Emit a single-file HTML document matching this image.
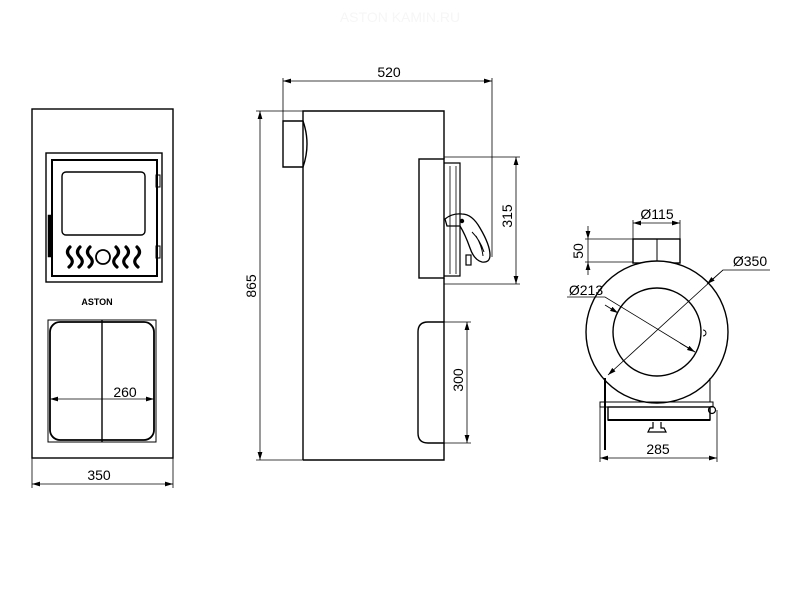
<!DOCTYPE html>
<html><head><style>html,body{margin:0;padding:0;background:#fff;width:800px;height:600px;overflow:hidden}</style></head>
<body>
<svg width="800" height="600" viewBox="0 0 800 600" xmlns="http://www.w3.org/2000/svg" font-family="Liberation Sans, sans-serif" font-size="14" fill="none" stroke="#000">
<defs>
<marker id="a" viewBox="0 0 10 6" refX="10" refY="3" markerWidth="10" markerHeight="6" orient="auto-start-reverse"><path d="M0,0 L10,3 L0,6 z" fill="#000" stroke="none"/></marker>
</defs>
<text x="400" y="22" fill="#f6f6f6" stroke="none" text-anchor="middle" font-size="14">ASTON KAMIN.RU</text>
<!-- FRONT VIEW -->
<g stroke-width="1.4">
<rect x="32" y="109" width="141" height="349"/>
<rect x="46" y="153" width="116" height="129"/>
<rect x="52" y="160" width="105" height="116" stroke-width="2"/>
<rect x="62" y="172" width="83" height="63" rx="4"/>
<rect x="156" y="175" width="4" height="12" stroke-width="1"/>
<rect x="156" y="246" width="4" height="12" stroke-width="1"/>
<rect x="48" y="215" width="3" height="42" fill="#000" stroke-width="0.5"/>
<rect x="48" y="320" width="108" height="122" stroke-width="1"/>
<rect x="50" y="322" width="104" height="118" rx="10" stroke-width="1.8"/>
<line x1="102" y1="320" x2="102" y2="442"/>
</g>
<g stroke-width="3.2" stroke-linecap="round">
<path d="M70,247 q-5,5 0,10 q5,5 -1,10"/>
<path d="M80,247 q-5,5 0,10 q5,5 -1,10"/>
<path d="M90,247 q-5,5 0,10 q5,5 -1,10"/>
<path d="M116,247 q5,5 0,10 q-5,5 1,10"/>
<path d="M126,247 q5,5 0,10 q-5,5 1,10"/>
<path d="M137,247 q5,5 0,10 q-5,5 1,10"/>
</g>
<circle cx="103" cy="257" r="7" stroke-width="1.8"/>
<text x="97" y="305" fill="#000" stroke="none" font-size="9" font-weight="bold" text-anchor="middle">ASTON</text>
<g stroke-width="0.8">
<line x1="50" y1="399" x2="154" y2="399" marker-start="url(#a)" marker-end="url(#a)"/>
<line x1="32" y1="458" x2="32" y2="488"/><line x1="173" y1="458" x2="173" y2="488"/>
<line x1="32" y1="484" x2="173" y2="484" marker-start="url(#a)" marker-end="url(#a)"/>
</g>
<text x="125" y="397" fill="#000" stroke="none" text-anchor="middle">260</text>
<text x="99" y="480" fill="#000" stroke="none" text-anchor="middle">350</text>
<!-- SIDE VIEW -->
<g stroke-width="1.4">
<path d="M303,460 V111 H444 V159 M444,278 V322 M444,443 V460 H303"/>
<path d="M283,121 H303 Q311,144 303,167 H283 Z"/>
<rect x="419" y="159" width="25" height="119"/>
<path d="M444,163 H460 V276 H444" stroke-width="1.2"/>
<line x1="450" y1="166" x2="450" y2="274" stroke-width="0.8"/>
<line x1="456" y1="166" x2="456" y2="274" stroke-width="0.8"/>
<path d="M428,322 H444 V443 H428 Q418,443 418,433 V332 Q418,322 428,322 Z"/>
<path d="M445,219 Q452,213 462,214 Q472,214 480,228 Q490,245 490,255 Q490,263 482,262 Q474,260 470,248 Q465,234 460,226 L447,226 Z" stroke-width="1.3"/>
<path d="M472,232 Q480,240 484,252 M476,236 Q482,246 483,256" stroke-width="1"/>
<rect x="466" y="255" width="5" height="10" stroke-width="1.2"/>
<circle cx="462" cy="221" r="1.5" fill="#000"/>
</g>
<g stroke-width="0.8">
<line x1="283" y1="78" x2="283" y2="121"/><line x1="492" y1="78" x2="492" y2="257"/>
<line x1="283" y1="81" x2="492" y2="81" marker-start="url(#a)" marker-end="url(#a)"/>
<line x1="256" y1="111" x2="303" y2="111"/><line x1="256" y1="460" x2="303" y2="460"/>
<line x1="260" y1="111" x2="260" y2="460" marker-start="url(#a)" marker-end="url(#a)"/>
<line x1="444" y1="157" x2="520" y2="157"/><line x1="444" y1="284" x2="520" y2="284"/>
<line x1="516" y1="157" x2="516" y2="284" marker-start="url(#a)" marker-end="url(#a)"/>
<line x1="428" y1="322" x2="471" y2="322"/><line x1="428" y1="443" x2="471" y2="443"/>
<line x1="467" y1="322" x2="467" y2="443" marker-start="url(#a)" marker-end="url(#a)"/>
</g>
<text x="389" y="77" fill="#000" stroke="none" text-anchor="middle">520</text>
<text transform="translate(256,286) rotate(-90)" fill="#000" stroke="none" text-anchor="middle">865</text>
<text transform="translate(512,216) rotate(-90)" fill="#000" stroke="none" text-anchor="middle">315</text>
<text transform="translate(463,380) rotate(-90)" fill="#000" stroke="none" text-anchor="middle">300</text>
<!-- CIRCLE VIEW -->
<g stroke-width="1.4">
<rect x="633" y="239" width="47" height="24"/>
<line x1="657" y1="239" x2="657" y2="262" stroke-width="1"/>
<circle cx="657" cy="332" r="71" fill="#fff"/>
<circle cx="657" cy="332" r="44"/>
<path d="M703,330 a3,3 0 0 1 0,6" stroke-width="1"/>
<line x1="605" y1="378" x2="605" y2="450" stroke-width="2"/>
<line x1="710" y1="378" x2="710" y2="402" stroke-width="1"/>
<rect x="600" y="402" width="113" height="5" stroke-width="1"/>
<rect x="608" y="407" width="102" height="13" stroke-width="1.4"/>
<line x1="608" y1="420" x2="710" y2="420" stroke-width="2"/>
<circle cx="712" cy="410" r="3.5" stroke-width="1.2"/>
<path d="M653,422 V428 H650 L648,432 H666 L664,428 H661 V422" stroke-width="1.2"/>
</g>
<g stroke-width="0.8">
<line x1="633" y1="223" x2="680" y2="223" marker-start="url(#a)" marker-end="url(#a)"/>
<line x1="633" y1="220" x2="633" y2="239"/><line x1="680" y1="220" x2="680" y2="239"/>
<line x1="585" y1="239" x2="633" y2="239"/><line x1="585" y1="262" x2="633" y2="262"/>
<line x1="588" y1="226" x2="588" y2="239" marker-end="url(#a)"/>
<line x1="588" y1="275" x2="588" y2="262" marker-end="url(#a)"/>
<line x1="588" y1="239" x2="588" y2="262"/>
<path d="M608,375 L723,270 H770" marker-start="url(#a)"/>
<line x1="707" y1="284" x2="723" y2="270" marker-start="url(#a)"/>
<path d="M567,297 H605 L695,352" />
<line x1="618" y1="313" x2="605" y2="305" marker-start="url(#a)"/>
<line x1="695" y1="352" x2="680" y2="343" marker-start="url(#a)"/>
<line x1="600" y1="402" x2="600" y2="462"/><line x1="717" y1="410" x2="717" y2="462"/>
<line x1="600" y1="458" x2="717" y2="458" marker-start="url(#a)" marker-end="url(#a)"/>
</g>
<text x="657" y="219" fill="#000" stroke="none" text-anchor="middle">Ø115</text>
<text transform="translate(583,251) rotate(-90)" fill="#000" stroke="none" text-anchor="middle">50</text>
<text x="750" y="266" fill="#000" stroke="none" text-anchor="middle">Ø350</text>
<text x="586" y="295" fill="#000" stroke="none" text-anchor="middle">Ø213</text>
<text x="658" y="454" fill="#000" stroke="none" text-anchor="middle">285</text>
</svg>
</body></html>
